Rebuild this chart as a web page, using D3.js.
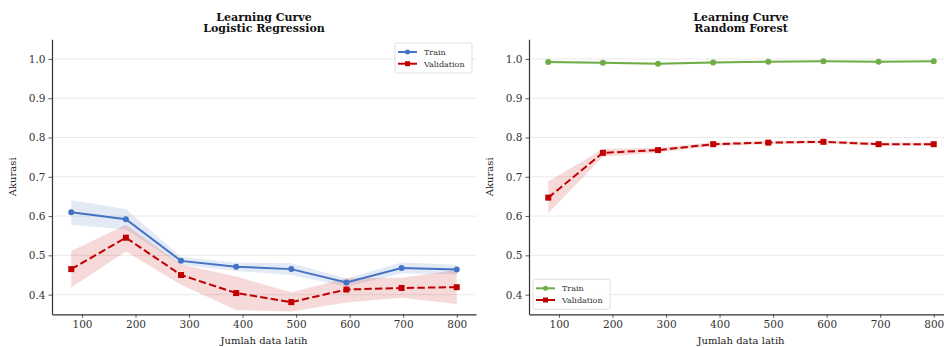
<!DOCTYPE html>
<html><head><meta charset="utf-8">
<script src="https://cdn.jsdelivr.net/npm/d3@7"></script>
<style>body{margin:0;background:#fff;} svg{display:block;}</style>
</head><body>
<svg id="c" width="944" height="347"></svg>
<script>
const trainSizes = [80, 182, 285, 388, 491, 594, 697, 800];
const xTicks = [100, 200, 300, 400, 500, 600, 700, 800];
const yTicks = [0.4, 0.5, 0.6, 0.7, 0.8, 0.9, 1.0];

const lrTrain     = [0.610, 0.592, 0.486, 0.471, 0.465, 0.431, 0.468, 0.464];
const lrTrainHi   = [0.640, 0.618, 0.496, 0.482, 0.480, 0.441, 0.482, 0.476];
const lrTrainLo   = [0.578, 0.566, 0.476, 0.460, 0.450, 0.421, 0.454, 0.452];
const lrVal       = [0.465, 0.545, 0.450, 0.404, 0.381, 0.413, 0.417, 0.419];
const lrValHi     = [0.511, 0.578, 0.477, 0.446, 0.406, 0.442, 0.443, 0.463];
const lrValLo     = [0.418, 0.510, 0.425, 0.361, 0.357, 0.380, 0.392, 0.376];

const rfTrain     = [0.992, 0.990, 0.988, 0.991, 0.993, 0.994, 0.993, 0.994];
const rfTrainHi   = [0.995, 0.993, 0.991, 0.994, 0.995, 0.996, 0.995, 0.996];
const rfTrainLo   = [0.989, 0.987, 0.985, 0.988, 0.991, 0.992, 0.991, 0.992];
const rfVal       = [0.647, 0.761, 0.768, 0.783, 0.787, 0.789, 0.783, 0.783];
const rfValHi     = [0.688, 0.771, 0.774, 0.788, 0.791, 0.793, 0.787, 0.787];
const rfValLo     = [0.607, 0.751, 0.762, 0.778, 0.783, 0.785, 0.779, 0.779];

const panels = [
  {title: "Logistic Regression", left: 52, right: 476, trainColor: "#4472C4",
   train: lrTrain, trainHi: lrTrainHi, trainLo: lrTrainLo,
   val: lrVal, valHi: lrValHi, valLo: lrValLo, legend: "upper right"},
  {title: "Random Forest", left: 529, right: 953, trainColor: "#70AD47",
   train: rfTrain, trainHi: rfTrainHi, trainLo: rfTrainLo,
   val: rfVal, valHi: rfValHi, valLo: rfValLo, legend: "lower left"}
];
const valColor = "#C00000";
const plotTop = 39.3, plotBottom = 314.3;
const font = "DejaVu Serif";
const svg = d3.select("#c");

panels.forEach(p => {
  const x = d3.scaleLinear().domain([44, 836]).range([p.left, p.right]);
  const y = d3.scaleLinear().domain([0.35, 1.05]).range([plotBottom, plotTop]);
  const g = svg.append("g");

  g.selectAll("line.grid").data(yTicks).enter().append("line")
    .attr("x1", p.left).attr("x2", p.right)
    .attr("y1", d => y(d)).attr("y2", d => y(d))
    .attr("stroke", "#e8e8e8").attr("stroke-width", 0.9);

  const area = (lo, hi) => d3.area().x((d, i) => x(trainSizes[i]))
      .y0((d, i) => y(lo[i])).y1((d, i) => y(hi[i]))(trainSizes);
  g.append("path").attr("d", area(p.trainLo, p.trainHi)).attr("fill", p.trainColor).attr("fill-opacity", 0.15);
  g.append("path").attr("d", area(p.valLo, p.valHi)).attr("fill", valColor).attr("fill-opacity", 0.15);

  const line = vals => d3.line().x((d, i) => x(trainSizes[i])).y(d => y(d))(vals);
  g.append("path").attr("d", line(p.train)).attr("fill", "none")
    .attr("stroke", p.trainColor).attr("stroke-width", 2);
  g.selectAll("circle.t").data(p.train).enter().append("circle")
    .attr("cx", (d, i) => x(trainSizes[i])).attr("cy", d => y(d)).attr("r", 3)
    .attr("fill", p.trainColor);
  g.append("path").attr("d", line(p.val)).attr("fill", "none")
    .attr("stroke", valColor).attr("stroke-width", 2).attr("stroke-dasharray", "7.4,3.2");
  g.selectAll("rect.v").data(p.val).enter().append("rect")
    .attr("x", (d, i) => x(trainSizes[i]) - 3).attr("y", d => y(d) - 3)
    .attr("width", 6).attr("height", 6).attr("fill", valColor);

  const xAxis = g.append("g").attr("transform", `translate(0,${plotBottom})`)
    .call(d3.axisBottom(x).tickValues(xTicks).tickSize(3.5).tickPadding(3).tickSizeOuter(0));
  const yAxis = g.append("g").attr("transform", `translate(${p.left},0)`)
    .call(d3.axisLeft(y).tickValues(yTicks).tickFormat(d3.format(".1f")).tickSize(3.5).tickPadding(3).tickSizeOuter(0));
  [xAxis, yAxis].forEach(a => {
    a.select(".domain").attr("stroke", "#333").attr("stroke-width", 1.2);
    a.selectAll(".tick line").attr("stroke", "#333").attr("stroke-width", 0.8);
    a.selectAll(".tick text").attr("fill", "#333").style("font-family", font).style("font-size", "10.5px");
  });

  const tcx = p.left + ((52 + 476) / 2 - 52);
  ["Learning Curve", p.title].forEach((t, i) => {
    g.append("text").attr("x", tcx).attr("y", 20.5 + i * 11.8).attr("text-anchor", "middle")
      .style("font-family", font).style("font-weight", "bold").style("font-size", "11px")
      .attr("fill", "#111").text(t);
  });
  g.append("text").attr("x", tcx).attr("y", 343.5).attr("text-anchor", "middle")
    .style("font-family", font).style("font-size", "10px").attr("fill", "#222").text("Jumlah data latih");
  g.append("text").attr("transform", `translate(${p.left - 36.5},${(plotTop + plotBottom) / 2}) rotate(-90)`)
    .attr("text-anchor", "middle").style("font-family", font).style("font-size", "10px")
    .attr("fill", "#222").text("Akurasi");

  const lw = 77, lh = 30;
  const lx = p.legend === "upper right" ? p.right - lw - 4 : p.left + 4;
  const ly = p.legend === "upper right" ? 43 : plotBottom - lh - 5;
  const lg = g.append("g").attr("transform", `translate(${lx},${ly})`);
  lg.append("rect").attr("width", lw).attr("height", lh).attr("rx", 2)
    .attr("fill", "#fff").attr("fill-opacity", 0.8).attr("stroke", "#d8d8d8").attr("stroke-width", 0.8);
  const items = [{label: "Train", color: p.trainColor, mk: "c"},
                 {label: "Validation", color: valColor, mk: "s"}];
  items.forEach((it, i) => {
    const yy = 9 + i * 11.7;
    lg.append("line").attr("x1", 3).attr("x2", 22).attr("y1", yy).attr("y2", yy)
      .attr("stroke", it.color).attr("stroke-width", 2);
    if (it.mk === "c") lg.append("circle").attr("cx", 12.5).attr("cy", yy).attr("r", 2.5).attr("fill", it.color);
    else lg.append("rect").attr("x", 10).attr("y", yy - 2.5).attr("width", 5).attr("height", 5).attr("fill", it.color);
    lg.append("text").attr("x", 29).attr("y", yy + 3).style("font-family", font).style("font-size", "8px")
      .attr("fill", "#333").text(it.label);
  });
});
</script>
</body></html>
